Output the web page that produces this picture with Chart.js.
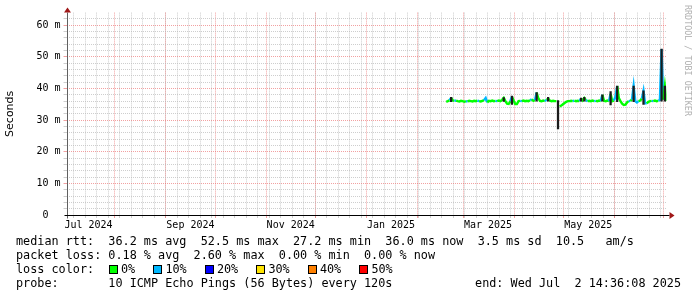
<!DOCTYPE html>
<html>
<head>
<meta charset="utf-8">
<script src="https://cdn.jsdelivr.net/npm/chart.js@4.4.1/dist/chart.umd.min.js"></script>
<style>
  html, body { margin: 0; padding: 0; background: #fff; }
  #wrap { position: relative; width: 697px; height: 297px; overflow: hidden; }
  #chart { position: absolute; left: 0; top: 0; }
  .leg { position: absolute; left: 16px; font-family: 'DejaVu Sans Mono', monospace; font-size: 11.8px; line-height: 14px; white-space: pre; color: #000; }
  .box { position: absolute; width: 7px; height: 7px; border: 1px solid #000; }
  #mark { position: absolute; left: 692px; top: 5px; font-family: 'DejaVu Sans Mono', monospace; font-size: 8.4px; line-height: 9px; color: #b0b0b0; white-space: pre; transform-origin: 0 0; transform: rotate(90deg); }
</style>
</head>
<body>
<div id="wrap">
  <canvas id="chart" width="697" height="297"></canvas>
  <div id="mark">RRDTOOL / TOBI OETIKER</div>
  <div class="leg" style="top:234px">median rtt:  36.2 ms avg  52.5 ms max  27.2 ms min  36.0 ms now  3.5 ms sd  10.5   am/s</div>
  <div class="leg" style="top:248px">packet loss: 0.18 % avg  2.60 % max  0.00 % min  0.00 % now</div>
  <div class="leg" style="top:262px" id="lossRow">loss color:</div>
  <div class="leg" style="top:276px">probe:       10 ICMP Echo Pings (56 Bytes) every 120s</div>
  <div class="leg" style="top:276px; left:auto; right:16px">end: Wed Jul  2 14:36:08 2025</div>
</div>
<script>
// time axis: one year ending at the probe end time, in days from start
const END = Date.UTC(2025, 6, 2, 14, 36, 8);
const DAY = 86400000;
const START = END - 365 * DAY;
const Y_MAX = 64;

// x axis labels (month they belong to)
const xLabelMonths = [[2024, 6], [2024, 8], [2024, 10], [2025, 0], [2025, 2], [2025, 4]];
const xTickLabels = ['Jul 2024', 'Sep 2024', 'Nov 2024', 'Jan 2025', 'Mar 2025', 'May 2025'];

// y axis labels
const yTickValues = [0, 10, 20, 30, 40, 50, 60];
const yTickLabels = ['0  ', '10 m', '20 m', '30 m', '40 m', '50 m', '60 m'];

// median rtt (ms), one value per day starting at firstDay (null = hidden under smoke)
const firstDay = 231;
const median = [
  35.8, 36.0, 36.3, 37.0, 36.2, 36.1, 36.2, 36.0, 35.9, 36.1,
  36.0, 35.8, 36.0, 35.9, 36.1, 36.0, 35.9, 36.1, 36.0, 36.2,
  36.0, 35.9, 36.1, 36.3, 37.0, 35.6, 36.1, 36.0, 36.2, 36.0,
  36.1, 36.0, 36.2, 36.0, 36.4, 37.0, 36.0, 35.2, 35.1, 36.0,
  37.4, 36.2, 35.1, 35.1, 36.0, 36.1, 36.0, 36.2, 36.0, 36.1,
  36.0, 36.3, 36.6, 36.1, 36.3, 38.7, 37.0, 36.1, 36.0, 36.2,
  36.0, 36.4, 36.8, 36.2, 36.0, 36.1, 36.0, 36.0, null, 34.3,
  34.6, 35.0, 35.4, 35.8, 36.0, 36.0, 36.1, 36.0, 36.2, 36.0,
  36.1, 36.0, 36.8, 36.2, 37.0, 36.3, 36.0, 36.1, 36.0, 36.2,
  36.0, 36.1, 36.0, 36.2, 36.0, 38.0, 36.1, 36.0, 36.2, 36.0,
  38.3, 36.0, 36.2, 37.5, 40.8, 37.0, 36.0, 35.2, 34.8, 34.9,
  35.6, 36.0, 36.1, 36.5, 40.8, 36.0, 35.6, 36.0, 36.2, 36.8,
  39.3, 35.3, 35.3, 35.8, 36.0, 36.1, 36.0, 36.2, 36.0, 36.1,
  36.4, 52.5, 36.5, 40.8, 36.0
];

// packet loss (%) for the same days
const lossPct = [
  0, 0, 0, 10, 0, 0, 10, 0, 0, 0,
  0, 0, 0, 10, 0, 0, 0, 0, 0, 0,
  10, 0, 0, 0, 10, 10, 0, 0, 0, 0,
  0, 10, 0, 0, 0, 0, 0, 0, 0, 0,
  10, 0, 0, 0, 0, 0, 10, 0, 0, 0,
  0, 0, 10, 0, 0, 10, 0, 0, 0, 0,
  0, 10, 0, 0, 0, 0, 0, 0, 0, 0,
  0, 0, 0, 0, 0, 0, 0, 0, 10, 0,
  0, 0, 10, 0, 0, 0, 10, 0, 0, 0,
  0, 10, 0, 0, 0, 10, 0, 0, 0, 0,
  10, 0, 0, 10, 10, 0, 0, 0, 0, 0,
  0, 0, 10, 0, 10, 10, 10, 10, 0, 0,
  10, 10, 10, 0, 0, 0, 10, 0, 0, 0,
  10, 10, 10, 0, 0
];

// smoke (ping spread) on the days where it sticks out
const smokeDays = [234, 266, 271, 286, 293, 299, 313, 315, 326, 331, 335, 345, 351, 362, 364];
const smokeLo   = [35.8, 35.9, 35.0, 36.0, 36.0, 27.2, 36.0, 36.0, 36.0, 34.8, 35.8, 35.8, 35.0, 36.0, 36.0];
const smokeHi   = [37.2, 37.1, 37.6, 38.7, 37.2, 36.2, 37.0, 37.2, 38.0, 39.0, 40.8, 40.8, 39.3, 52.5, 40.8];

// loss colour legend
const lossLegend = ['0%', '10%', '20%', '30%', '40%', '50%'];
const lossColors = ['#00ff00', '#00b8ff', '#0000ff', '#ffe400', '#ff8000', '#ff0000'];

const GRID_MINOR = 'rgba(185,185,185,0.7)';
const GRID_MAJOR = 'rgba(235,110,110,0.65)';
const NONE = 'rgba(0,0,0,0)';

function dayOf(y, m, d) {
  return (Date.UTC(y, m, d) - START) / DAY;
}

// legend row with colour boxes
const lossRow = document.getElementById('lossRow');
let bx = 109;
lossLegend.forEach((txt, i) => {
  const b = document.createElement('div');
  b.className = 'box';
  b.style.left = (bx - 16) + 'px';
  b.style.top = '3px';
  b.style.background = lossColors[i];
  lossRow.appendChild(b);
  const t = document.createElement('span');
  t.textContent = txt;
  t.style.position = 'absolute';
  t.style.left = (bx - 16 + 12) + 'px';
  lossRow.appendChild(t);
  bx += 12 + txt.length * 7.1 + 18.2;
});

const medianPts = median.map((v, i) => ({ x: firstDay + i, y: v }));
const smokePts = smokeDays.map((d, i) => ({ x: d, y: [smokeLo[i], smokeHi[i]] }));

function lossColor(idx) {
  return lossColors[Math.min(5, Math.round(lossPct[idx] / 10))];
}

const axisArrows = {
  id: 'axisArrows',
  afterDraw(chart) {
    const { ctx, chartArea: a } = chart;
    const x0 = Math.round(a.left) + 0.5;
    const y0 = Math.round(a.bottom) + 0.5;
    ctx.save();
    ctx.lineWidth = 1;
    ctx.strokeStyle = '#606060';
    ctx.beginPath();
    ctx.moveTo(x0, y0 + 3);
    ctx.lineTo(x0, a.top);
    ctx.stroke();
    ctx.strokeStyle = '#000';
    ctx.beginPath();
    ctx.moveTo(x0 - 3, y0);
    ctx.lineTo(a.right + 3, y0);
    ctx.stroke();
    ctx.fillStyle = '#a01818';
    ctx.beginPath();
    ctx.moveTo(x0 - 3.5, a.top);
    ctx.lineTo(x0 + 3.5, a.top);
    ctx.lineTo(x0, a.top - 5);
    ctx.fill();
    ctx.beginPath();
    ctx.moveTo(a.right + 3, y0 - 3.5);
    ctx.lineTo(a.right + 3, y0 + 3.5);
    ctx.lineTo(a.right + 8, y0);
    ctx.fill();
    ctx.restore();
  }
};

new Chart(document.getElementById('chart'), {
  type: 'line',
  data: {
    datasets: [
      {
        type: 'line',
        data: medianPts,
        borderWidth: 2.4,
        pointRadius: 0,
        tension: 0,
        spanGaps: false,
        segment: { borderColor: ctx => lossColor(ctx.p1DataIndex) },
        borderColor: lossColors[0],
        order: 2
      },
      {
        type: 'bar',
        data: smokePts,
        backgroundColor: '#1c1c1c',
        barThickness: 1.6,
        grouped: false,
        order: 1
      }
    ]
  },
  options: {
    responsive: false,
    animation: false,
    events: [],
    layout: { padding: { left: 0, right: 30.5, top: 12.6, bottom: 57 } },
    plugins: { legend: { display: false }, tooltip: { enabled: false } },
    scales: {
      x: {
        type: 'linear',
        min: 0,
        max: 365,
        offset: false,
        afterFit: s => { s.height = 25; },
        afterBuildTicks: s => {
          const t = [];
          for (let d = dayOf(2024, 6, 7); d <= 365; d += 7) t.push({ value: d, kind: 'minor' });
          for (let m = 7; m <= 18; m++) t.push({ value: dayOf(2024, m, 1), kind: 'major' });
          xLabelMonths.forEach((ym, i) => t.push({ value: dayOf(ym[0], ym[1], 1) + 15, kind: 'label', label: xTickLabels[i] }));
          t.sort((a, b) => a.value - b.value);
          s.ticks = t;
        },
        ticks: {
          autoSkip: false,
          maxRotation: 0,
          padding: 1,
          color: '#000',
          font: { family: 'DejaVu Sans Mono', size: 10 },
          callback: (v, i, ticks) => ticks[i].label || ''
        },
        grid: {
          offset: false,
          color: c => c.tick.kind === 'major' ? GRID_MAJOR : c.tick.kind === 'minor' ? GRID_MINOR : NONE,
          tickColor: c => c.tick.kind === 'major' ? GRID_MAJOR : c.tick.kind === 'minor' ? GRID_MINOR : NONE,
          tickLength: 3,
          tickBorderDash: [],
          lineWidth: 1
        },
        border: { display: false, dash: [1, 1] }
      },
      y: {
        min: 0,
        max: Y_MAX,
        afterFit: s => { s.width = 66.5; },
        afterBuildTicks: s => {
          const t = [];
          for (let v = 0; v <= Y_MAX; v += 2) t.push({ value: v });
          s.ticks = t;
        },
        ticks: {
          autoSkip: false,
          padding: 3,
          color: '#000',
          font: { family: 'DejaVu Sans Mono', size: 10 },
          callback: v => {
            const i = yTickValues.indexOf(v);
            return i < 0 ? '' : yTickLabels[i];
          }
        },
        grid: {
          color: c => (c.tick.value === 0 || c.tick.value === Y_MAX) ? NONE : (c.tick.value % 10 === 0 ? GRID_MAJOR : GRID_MINOR),
          tickColor: c => (c.tick.value === 0 || c.tick.value === Y_MAX) ? NONE : (c.tick.value % 10 === 0 ? GRID_MAJOR : GRID_MINOR),
          tickLength: 3,
          tickBorderDash: [],
          lineWidth: 1
        },
        border: { display: false, dash: [1, 1] },
        title: {
          display: true,
          text: 'Seconds',
          color: '#000',
          font: { family: 'DejaVu Sans', size: 11 },
          padding: { top: 4, bottom: 4 }
        }
      }
    }
  },
  plugins: [axisArrows]
});
</script>
</body>
</html>
